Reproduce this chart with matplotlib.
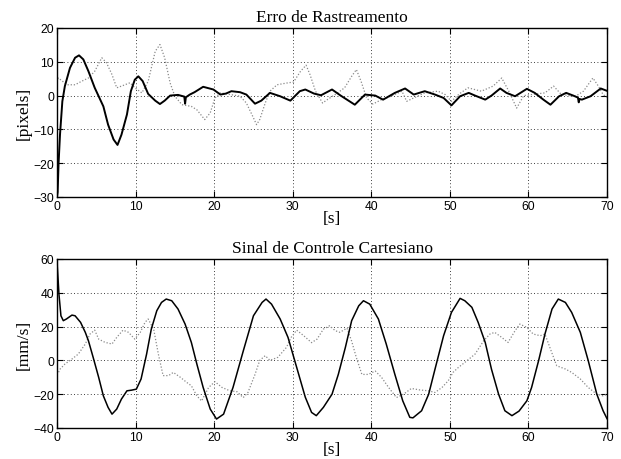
import matplotlib
matplotlib.use("Agg")
import matplotlib.pyplot as plt

# ---- Top: Erro de Rastreamento ----
t_err_a = [0, 0.08, 0.2, 0.38, 0.68, 1.0, 1.65, 2.3, 2.8, 3.35, 4.0, 4.8, 5.9, 6.5, 7.2, 7.7, 8.2, 8.9,
           9.4, 9.9, 10.35, 10.9, 11.6, 12.5, 13.1, 13.7, 14.4, 15.4, 16.2, 16.3, 16.4, 16.9, 17.5, 18.6,
           19.9, 20.8, 21.5, 22.2, 23.3, 24.1, 25.2, 26.0, 27.1, 28.4, 29.7, 30.9, 31.6, 32.7, 33.6, 35.0,
           36.1, 37.9, 39.2, 40.5, 41.5, 43.0, 44.3, 45.4, 46.8, 48.1, 49.2, 50.2, 51.3, 52.4, 53.2, 54.5,
           55.3, 56.4, 57.2, 58.3, 59.8, 60.8, 61.9, 62.8, 63.9, 64.8, 65.7, 66.3, 66.4, 66.5, 66.8, 67.9,
           69.2, 70.0]
e_err_a = [-30, -28.5, -20, -11.6, -1.7, 2.8, 8.2, 11.2, 11.9, 10.7, 7.2, 2.3, -3.2, -8.6, -13, -14.6, -11.6, -5.6,
           1.3, 4.7, 5.7, 4.3, 0.5, -1.5, -2.5, -1.5, 0.0, 0.2, -0.3, -2.4, -0.5, 0.3, 1.0, 2.6,
           1.8, 0.3, 0.6, 1.3, 1.0, 0.3, -2.4, -1.5, 0.8, -0.2, -1.5, 1.3, 1.8, 0.6, 0.1, 1.8,
           0.0, -2.7, 0.3, 0.0, -1.2, 0.8, 2.1, 0.3, 1.3, 0.3, -0.7, -2.9, -0.2, 0.8, 0.0, -1.2,
           0.0, 2.1, 0.8, -0.2, 2.0, 0.8, -1.2, -2.7, -0.2, 0.8, 0.0, -0.6, -2.0, -1.0, -1.2, -0.2,
           2.1, 1.4]

t_err_b = [0, 0.17, 1.0, 1.4, 2.3, 3.1, 4.0, 4.8, 5.7, 6.3, 7.0, 7.6, 8.2, 9.3, 9.9, 10.8, 11.6, 12.5,
           13.1, 13.7, 14.4, 15.0, 15.9, 17.1, 17.8, 18.8, 19.5, 20.1, 20.8, 22.1, 23.3, 24.1, 24.8, 25.4,
           25.8, 26.5, 27.1, 28.0, 29.2, 30.1, 31.0, 31.7, 32.2, 32.9, 33.8, 34.4, 35.4, 36.6, 37.5, 38.1,
           38.7, 39.4, 40.2, 41.3, 42.5, 43.9, 44.5, 45.4, 46.8, 48.5, 49.4, 50.2, 51.2, 52.3, 54.0, 55.5,
           56.6, 57.5, 58.5, 59.4, 60.4, 62.1, 63.2, 64.2, 66.0, 67.0, 68.2, 68.9, 69.5, 70.0]
e_err_b = [4.0, 5.2, 3.7, 3.2, 3.2, 4.2, 5.2, 7.2, 11.2, 9.7, 6.2, 2.3, 2.8, 3.8, 2.3, 0.8, 4.2, 13.1,
           15.1, 11.2, 3.7, -0.2, -2.7, -3.2, -4.2, -7.1, -5.1, -0.7, 0.8, 0.3, -0.2, -2.2, -5.6, -8.6,
           -7.1, -2.2, 1.3, 3.2, 3.7, 4.0, 7.2, 9.0, 6.2, 1.3, -2.2, -1.2, 0.3, 2.3, 5.7, 7.7,
           4.2, -0.7, -2.5, -1.2, -0.2, 1.3, -1.7, -0.7, 0.8, 1.3, 0.3, -1.7, 0.5, 2.3, 1.3, 2.8,
           5.2, 1.3, -3.7, 0.0, 0.3, 0.8, 2.8, 0.3, -0.2, 1.3, 5.2, 2.8, 0.3, -0.5]

# ---- Bottom: Sinal de Controle Cartesiano ----
t_ctl_a = [0, 0.05, 0.25, 0.5, 0.8, 1.2, 1.9, 2.3, 3.0, 3.6, 4.0, 4.6, 5.3, 5.9, 6.5, 7.0, 7.6, 8.2, 8.9,
           9.5, 10.1, 10.7, 11.4, 12.0, 12.7, 13.3, 13.9, 14.6, 15.4, 16.3, 17.1, 17.8, 18.6, 19.5, 20.3,
           21.2, 22.4, 23.7, 25.0, 26.1, 26.6, 27.3, 28.4, 29.4, 30.5, 31.6, 32.4, 33.0, 33.9, 35.0, 35.8,
           36.7, 37.5, 38.4, 39.0, 39.8, 40.9, 41.9, 43.0, 44.0, 44.9, 45.3, 46.4, 47.3, 48.1, 49.2, 50.2,
           51.3, 51.9, 52.8, 53.6, 54.5, 55.3, 56.2, 57.0, 57.9, 58.8, 59.8, 60.4, 61.3, 62.1, 63.0, 63.8,
           64.7, 65.5, 66.6, 67.6, 68.7, 69.5, 70.0]
u_ctl_a = [60, 55, 39, 26.4, 23.5, 24.5, 26.8, 26.4, 22.5, 16.6, 11.6, 1.8, -10, -21, -27.8, -31.8, -28.8, -22.9, -18,
           -17.6, -17, -11, 3.7, 18.5, 29.4, 34.3, 36.3, 35.3, 30.4, 21.5, 10.6, -2.2, -16, -28.8, -34.7,
           -31.8, -16, 5.5, 26.4, 34.3, 36.3, 33.3, 24.5, 13.6, -4.1, -21.8, -30.8, -32.7, -27.8, -20, -8.3,
           7.7, 23.5, 32.3, 35.3, 33.3, 24.5, 9.7, -8.3, -23.9, -33.7, -34, -29.8, -20, -5.3, 14.6, 28.4,
           36.7, 35.3, 31.4, 22.5, 10.6, -5.3, -20, -29.8, -32.7, -30.0, -23.9, -16, 0, 15.6, 30.4, 36.3,
           34.3, 28.4, 16.6, 0, -20, -29.8, -34.5]

t_ctl_b = [0.2, 0.4, 1.0, 1.9, 2.7, 3.6, 4.2, 4.8, 5.3, 6.1, 7.0, 7.6, 8.4, 9.1, 9.9, 10.6, 11.2, 11.6,
           12.3, 12.9, 13.5, 14.2, 14.8, 15.7, 16.5, 17.1, 17.8, 18.4, 19.3, 20.1, 21.0, 22.0, 22.9, 23.7,
           24.3, 25.2, 25.8, 26.5, 27.1, 28.1, 29.2, 29.8, 30.5, 31.4, 32.4, 33.1, 33.9, 34.7, 35.4, 36.0,
           36.9, 37.5, 38.1, 38.8, 39.6, 40.5, 41.3, 42.2, 43.2, 44.1, 45.1, 46.2, 47.3, 48.1, 49.0, 49.8,
           50.4, 51.1, 51.9, 53.2, 54.3, 55.1, 55.7, 56.6, 57.4, 58.3, 58.9, 59.8, 60.6, 61.5, 62.1, 62.8,
           63.6, 64.7, 65.5, 66.6, 67.6, 68.7, 69.5, 70.0]
u_ctl_b = [-7, -5.1, -2.2, 0.8, 3.7, 9.7, 15.6, 17.9, 12.6, 10.7, 9.7, 13.6, 17.9, 16.6, 12.6, 16.6, 22.5, 24.5,
           18.5, 3.7, -9, -9, -7.1, -10, -13, -15, -21, -24, -16, -12.6, -16, -18, -18.5, -22,
           -19, -8.3, 0, 2.8, 0, 1.8, 7.7, 13.6, 17.9, 14.6, 10.5, 12.6, 18.5, 20.5, 17.6, 16.6,
           19.1, 11.4, 1.6, -8.3, -8.3, -6.3, -10, -16, -22, -20, -16.6, -17.5, -18, -19, -16, -12,
           -7.1, -4.1, -1.2, 3.7, 11.6, 15.6, 16.6, 13.6, 10.6, 17.6, 21.5, 19.5, 15.6, 14.6, 15.6, 6.7,
           -3.2, -5.1, -7.1, -11, -16, -20, -21, -20]

x_ticks = [0, 10, 20, 30, 40, 50, 60, 70]
top_yticks = [-30, -20, -10, 0, 10, 20]
bot_yticks = [-40, -20, 0, 20, 40, 60]

serif = ["Liberation Serif", "DejaVu Serif"]
sans = ["Liberation Sans", "DejaVu Sans"]

fig = plt.figure(figsize=(6.21, 4.60), dpi=100)
ax1 = fig.add_axes([0.0918, 0.5696, 0.8857, 0.3674])
ax2 = fig.add_axes([0.0918, 0.0674, 0.8857, 0.3674])

def style(ax, yticks, ylim, title, ylabel):
    ax.set_xlim(0, 70)
    ax.set_ylim(*ylim)
    ax.set_xticks(x_ticks)
    ax.set_yticks(yticks)
    ax.set_xticklabels([str(v) for v in x_ticks], family=sans, fontsize=8.7)
    ax.set_yticklabels([("\u2212" + str(-v)) if v < 0 else str(v) for v in yticks], family=sans, fontsize=8.7)
    ax.tick_params(direction="in", length=4, width=0.8, top=True, right=True, pad=2)
    ax.grid(True, linestyle=(0, (1, 3)), color="black", linewidth=0.6)
    for s in ax.spines.values():
        s.set_linewidth(1.0)
    ax.set_title(title, family=serif, fontsize=12.5, pad=5)
    ax.set_ylabel(ylabel, family=serif, fontsize=12.5, labelpad=1)
    ax.set_xlabel("[s]", family=serif, fontsize=12.5, labelpad=-1)

ax1.plot(t_err_b, e_err_b, linestyle=(0, (1, 1.5)), color="#8a8a8a", linewidth=0.9)
ax1.plot(t_err_a, e_err_a, color="black", linewidth=1.4)
style(ax1, top_yticks, (-30, 20), "Erro de Rastreamento", "[pixels]")

ax2.plot(t_ctl_b, u_ctl_b, linestyle=(0, (1, 1.5)), color="#8a8a8a", linewidth=0.9)
ax2.plot(t_ctl_a, u_ctl_a, color="black", linewidth=1.1)
style(ax2, bot_yticks, (-40, 60), "Sinal de Controle Cartesiano", "[mm/s]")

fig.savefig("out.png", dpi=100)
